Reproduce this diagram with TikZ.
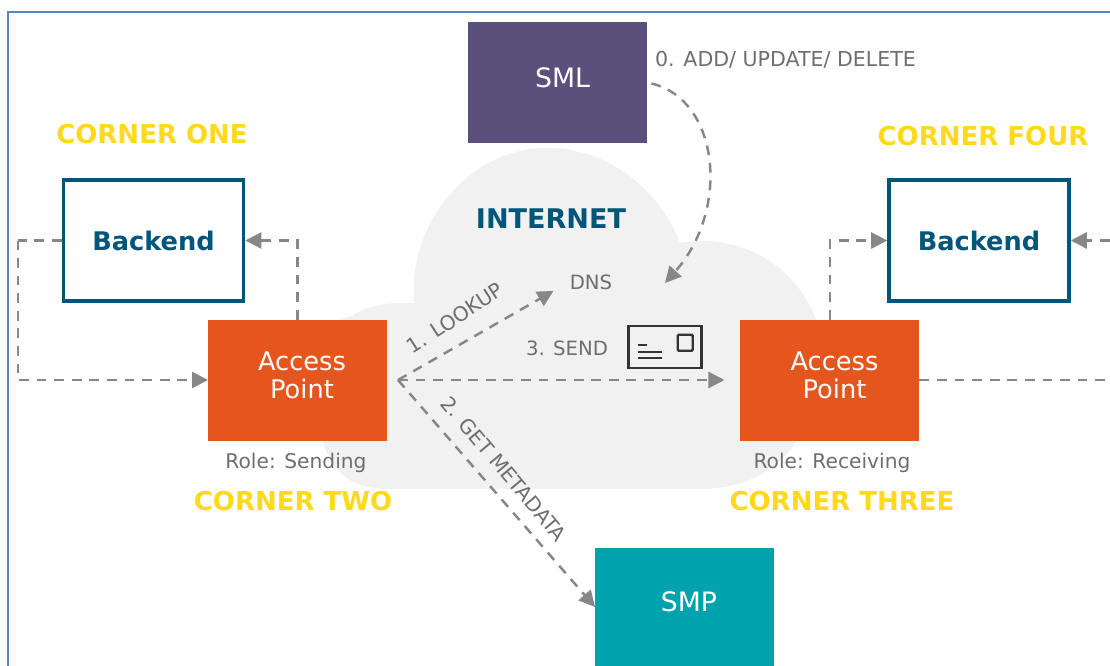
\documentclass[tikz,border=0pt]{standalone}
\usepackage{fontspec}
\setmainfont{DejaVu Sans}
\definecolor{SMLPurple}{RGB}{91, 79, 124}
\definecolor{APOrange}{RGB}{229, 86, 30}
\definecolor{SMPTeal}{RGB}{0, 162, 173}
\definecolor{BackendBlue}{RGB}{0, 86, 122}
\definecolor{CornerYellow}{RGB}{255, 217, 26}
\definecolor{CloudGray}{RGB}{241, 241, 241}
\definecolor{LineGray}{RGB}{135, 135, 135}
\definecolor{LabelGray}{RGB}{110, 110, 110}
\definecolor{FrameBlue}{RGB}{85, 135, 200}
\usetikzlibrary{arrows.meta}
\newcommand{\nudge}{\hspace*{0.09cm}}

\begin{document}
\begin{tikzpicture}[
        box/.style={rectangle, inner sep=0pt, outer sep=0pt, minimum width=1.79cm, minimum height=1.21cm, align=center, text=white, text depth=0.1cm, font=\fontsize{7.3}{8}\selectfont},
        regbox/.style={box, font=\fontsize{7.6}{8}\selectfont},
        backend/.style={rectangle, draw=BackendBlue, line width=1pt, inner sep=0pt, outer sep=0.5pt, minimum width=1.80cm, minimum height=1.21cm, text=BackendBlue, font=\fontsize{7.3}{8}\selectfont\bfseries},
        corner/.style={text=CornerYellow, inner sep=0pt, font=\fontsize{7.4}{8}\selectfont\bfseries},
        lbl/.style={text=LabelGray, inner sep=0pt, font=\fontsize{5.6}{7}\selectfont},
        biglbl/.style={lbl, font=\fontsize{5.75}{7}\selectfont},
        plain/.style={LineGray, line width=0.7pt, dash pattern=on 2.8pt off 2.2pt},
        arrow/.style={plain, -{Triangle[length=0.16cm, width=0.16cm]}},
        envline/.style={black!80, line width=0.7pt}
    ]
        \useasboundingbox (0, 0) rectangle (11.1, 6.66);

        % Outer frame, open to the right and below
        \draw[FrameBlue, line width=0.6pt] (0.08, 0) -- (0.08, 6.54) -- (11.1, 6.54);

        % Internet cloud
        \fill[CloudGray] (3.89, 1.77) .. controls (3.45, 1.77) and (3.30, 2.00) .. (3.22, 2.26)
            .. controls (3.00, 2.80) and (3.20, 3.49) .. (3.50, 3.49)
            .. controls (3.70, 3.63) and (3.90, 3.63) .. (4.14, 3.63)
            .. controls (4.08, 4.45) and (4.70, 5.18) .. (5.47, 5.18)
            .. controls (6.10, 5.18) and (6.60, 4.75) .. (6.80, 4.23)
            .. controls (7.50, 4.35) and (8.00, 3.90) .. (8.15, 3.49)
            .. controls (8.40, 3.00) and (8.20, 2.45) .. (7.97, 2.25)
            .. controls (7.80, 2.00) and (7.50, 1.77) .. (7.00, 1.77) -- cycle;

        % Registry boxes
        \node[regbox, fill=SMLPurple] (sml) at (5.58, 5.835) {\nudge SML};
        \node[regbox, fill=SMPTeal, minimum height=1.18cm] (smp) at (6.845, 0.59) {\nudge SMP};

        % Corners
        \node[backend] (backone) at (1.535, 4.255) {Backend};
        \node[backend] (backfour) at (9.79, 4.255) {Backend};
        \node[box, fill=APOrange] (apsend) at (2.975, 2.86) {\nudge Access\\\nudge Point};
        \node[box, fill=APOrange] (aprecv) at (8.30, 2.86) {\nudge Access\\\nudge Point};

        % Cloud texts
        \node[text=BackendBlue, inner sep=0pt, font=\fontsize{7.7}{8}\selectfont\bfseries] (internet) at (5.51, 4.47) {INTERNET};
        \node[lbl] (dns) at (5.91, 3.84) {DNS};

        % Corner labels
        \node[corner] (cornerone) at (1.52, 5.32) {CORNER ONE};
        \node[corner] (cornertwo) at (2.93, 1.65) {CORNER TWO};
        \node[corner] (cornerthree) at (8.42, 1.65) {CORNER THREE};
        \node[corner] (cornerfour) at (9.83, 5.30) {CORNER FOUR};
        \node[biglbl] (rolesend) at (2.96, 2.03) {Role: Sending};
        \node[biglbl] (rolerecv) at (8.32, 2.03) {Role: Receiving};

        % Free ends of the connectors
        \coordinate (hub) at (3.98, 2.86);
        \coordinate (dnsin) at (6.65, 3.83);
        \coordinate (edgeback) at (11.1, 4.255);
        \coordinate (edgeap) at (11.1, 2.86);
        \coordinate (leftrun) at (0.18, 4.255);

        % Connections of corner two and corner one
        \draw[plain] (backone.west) -- (leftrun);
        \draw[arrow] (leftrun) |- (apsend.west);
        \draw[arrow] (apsend.north) |- (backone.east);

        % Connections of corner three and corner four
        \draw[arrow] (aprecv.north) |- (backfour.west);
        \draw[arrow] (edgeback) -- (backfour.east);
        \draw[plain] (aprecv.east) -- (edgeap);

        % Connections across the cloud
        \draw[arrow, shorten >=0.18cm] (hub) -- (dns.west);
        \draw[arrow, shorten >=0.16cm] (hub) -- (aprecv.west);
        \draw[arrow] (hub) -- (smp.west);
        \draw[arrow, shorten <=0.04cm] (sml.east) .. controls (7.20, 5.66) and (7.30, 4.56) .. (dnsin);

        % Connector labels
        \node[lbl, font=\fontsize{5.85}{7}\selectfont] (add) at (7.855, 6.06) {0. ADD/ UPDATE/ DELETE};
        \node[biglbl, rotate=33] (lookup) at (4.55, 3.48) {1. LOOKUP};
        \node[biglbl, rotate=-50] (metadata) at (5.04, 1.97) {2. GET METADATA};
        \node[lbl] (send) at (5.67, 3.18) {3. SEND};

        % Envelope
        \node[rectangle, draw=black!80, line width=0.7pt, inner sep=0pt, minimum width=0.73cm, minimum height=0.42cm] (envelope) at (6.65, 3.19) {};
        \node[rectangle, draw=black!80, line width=0.7pt, rounded corners=0.3pt, inner sep=0pt, minimum width=0.15cm, minimum height=0.16cm, anchor=north east] (stamp) at (6.94, 3.325) {};
        \draw[envline] (6.38, 3.21) -- (6.47, 3.21);
        \draw[envline] (6.38, 3.14) -- (6.62, 3.14);
        \draw[envline] (6.38, 3.08) -- (6.62, 3.08);
    \end{tikzpicture}
\end{document}
